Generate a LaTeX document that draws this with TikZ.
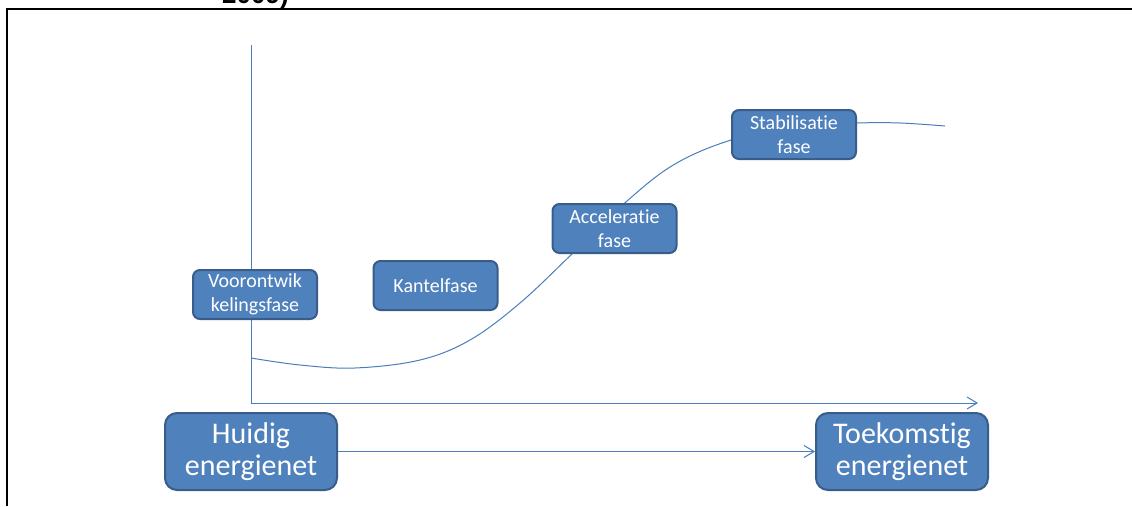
\documentclass[tikz,border=0pt]{standalone}
\usepackage{fontspec}
\setmainfont[Ligatures={NoCommon}]{Carlito}
\newfontfamily\arialfont{Liberation Sans}
\usetikzlibrary{arrows.meta}
\definecolor{boxfill}{RGB}{79,129,189}
\definecolor{boxedge}{RGB}{56,93,138}
\definecolor{linec}{RGB}{74,126,187}
\newcommand{\nolig}{\kern0pt }
\begin{document}
\begin{tikzpicture}[x=1pt,y=-1pt,
  phase/.style={draw=boxedge, line width=2pt, fill=boxfill, rounded corners=7pt, text=white, align=center, font=\fontsize{20}{24}\selectfont, minimum width=124pt, minimum height=49pt, inner sep=0pt},
  bigphase/.style={phase, font=\fontsize{30}{32}\selectfont, minimum width=172pt, minimum height=77pt, rounded corners=12pt},
  conn/.style={draw=linec, line width=1pt},
  tip/.style={-{Straight Barb[length=10pt,width=12pt]}}
]
\useasboundingbox (0,0) rectangle (1132,506);
\node[anchor=base west, font=\arialfont\bfseries\fontsize{26}{30}\selectfont, inner sep=0pt] (title) at (222,4) {2009)};
\draw[line width=1.5pt] (7,506) -- (7,9) -- (1132,9);
\coordinate (ytop) at (251,45);
\coordinate (origin) at (251,403);
\coordinate (xend) at (978,403);
\draw[conn, tip] (ytop) -- (origin) -- (xend);
\draw[conn] plot[smooth, tension=0.6] coordinates {(251,358) (300,365) (355,368) (420,360) (470,340) (520,303) (573,253) (627,201) (675,164) (731,140) (794,126) (857,123) (900,123) (945,126)};
\node[phase] (voor) at (255,294.5) {Voorontwik\\kelingsfase};
\node[phase] (kantel) at (435.5,285.5) {Kantelfase};
\node[phase] (accel) at (614.5,228.5) {Accelerat\nolig ie\\fase};
\node[phase] (stab) at (794,134.5) {Stabilisat\nolig ie\\fase};
\node[bigphase] (huidig) at (251,451.5) {Huidig\\energienet};
\node[bigphase] (toek) at (902,451.5) {Toekomst\nolig ig\\energienet};
\draw[conn, tip] (huidig) -- (toek);
\end{tikzpicture}
\end{document}
